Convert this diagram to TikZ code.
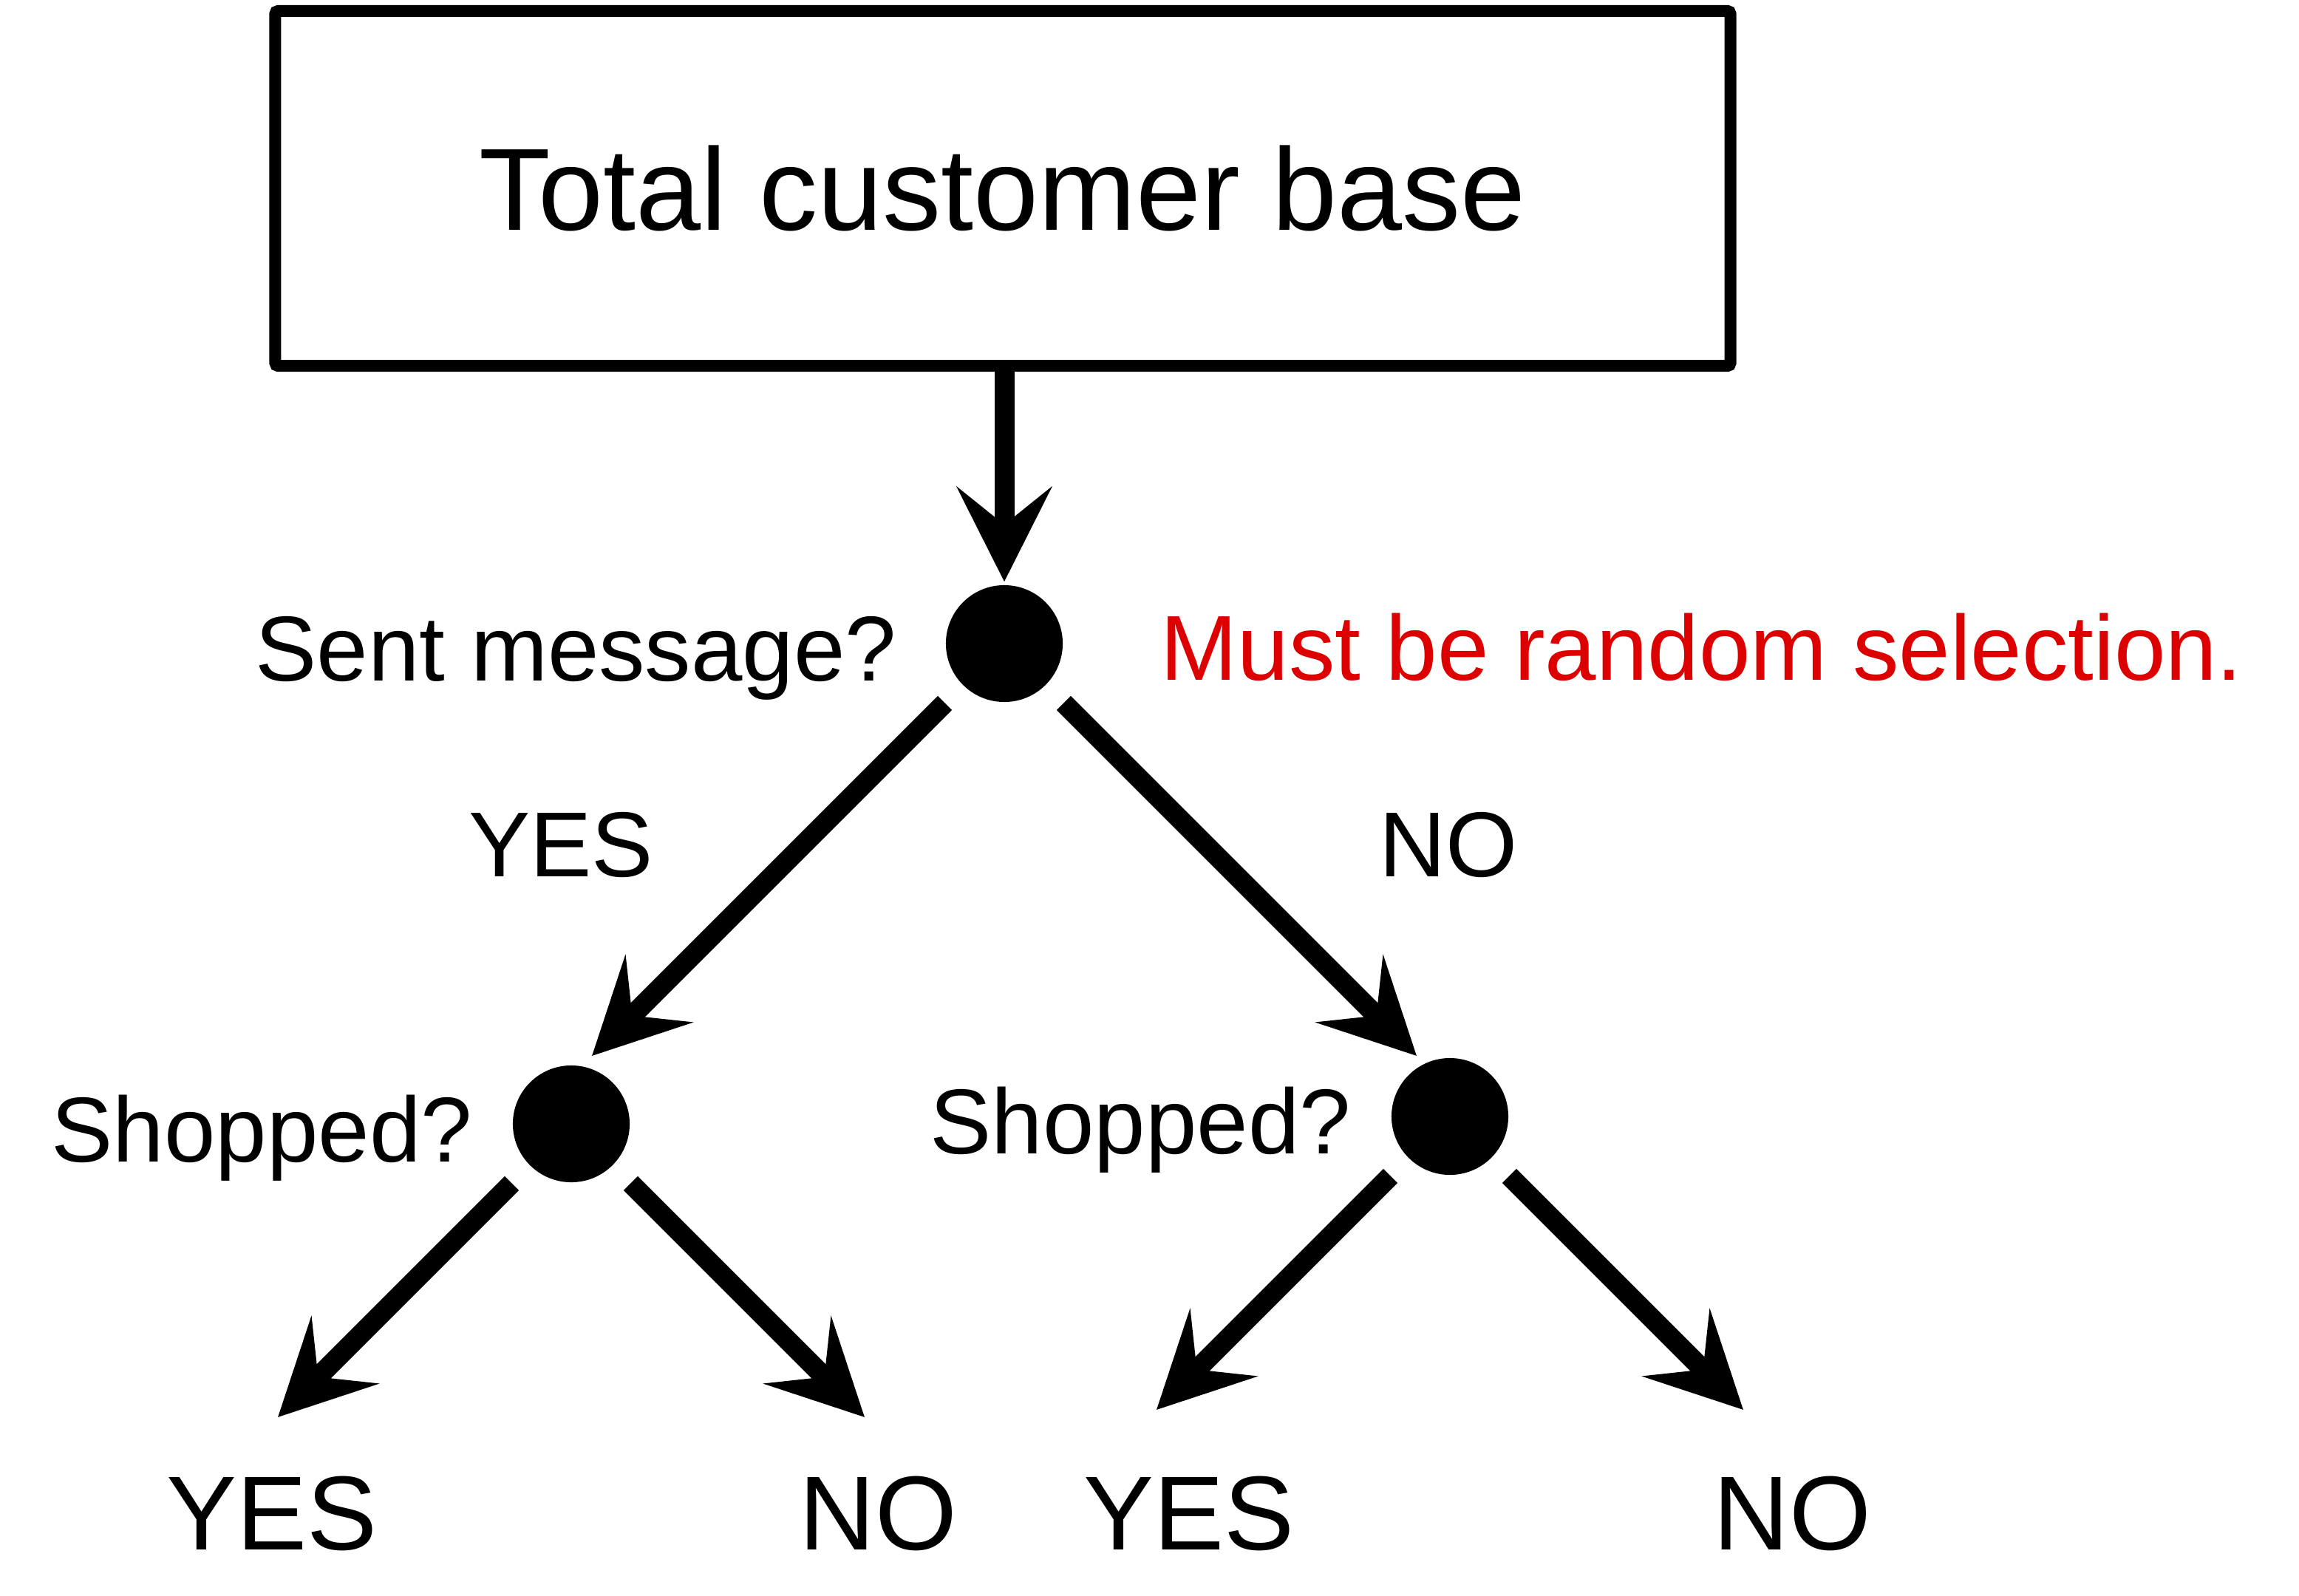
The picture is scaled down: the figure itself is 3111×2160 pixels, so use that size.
\documentclass[tikz,border=0pt]{standalone}
\usepackage{fontspec}
\setmainfont{Liberation Sans}
\usepackage{xcolor}
\usepackage{tikz}
\usetikzlibrary{arrows.meta}
\definecolor{notered}{RGB}{220,0,0}

\begin{document}
\begin{tikzpicture}[
  x=0.01cm, y=-0.01cm,
  box/.style={draw, rectangle, line width=0.16cm, rounded corners=0.04cm, minimum width=19.68cm, minimum height=4.8cm, inner sep=0pt, font=\fontsize{45}{54}\selectfont},
  dot/.style={circle, fill=black, minimum size=1.58cm, inner sep=0pt},
  lbl/.style={inner sep=0pt, font=\fontsize{35.5}{42}\selectfont},
  ans/.style={inner sep=0pt, font=\fontsize{40.5}{48}\selectfont},
  arr/.style={-{Stealth[length=1.28cm, width=1.28cm, inset=0.51cm]}, line width=0.27cm}
]
\useasboundingbox (0,0) rectangle (3111,2160);

\node[box] (total) at (1357,255) {Total customer base};

\node[dot] (sent) at (1359,871) {};
\node[dot] (shopyes) at (773,1521) {};
\node[dot] (shopno) at (1962,1511) {};

\node[lbl, anchor=base west] (lsent) at (345,921) {Sent message?};
\node[lbl, anchor=base west, text=notered] (lrandom) at (1570,920) {Must be random selection.};
\node[lbl, anchor=base] (lyes) at (759,1186) {YES};
\node[lbl, anchor=base] (lno) at (1960,1186) {NO};
\node[lbl, anchor=base west] (lshopyes) at (69,1572) {Shopped?};
\node[lbl, anchor=base west] (lshopno) at (1258,1561) {Shopped?};

\node[ans, anchor=base] (yesyes) at (368,2097) {YES};
\node[ans, anchor=base] (yesno) at (1188,2097) {NO};
\node[ans, anchor=base] (noyes) at (1609,2097) {YES};
\node[ans, anchor=base] (nono) at (2425,2097) {NO};

\coordinate (toyes) at (801,1429);
\coordinate (tono) at (1917,1429);
\coordinate (toyesyes) at (376,1918);
\coordinate (toyesno) at (1170,1918);
\coordinate (tonoyes) at (1565,1908);
\coordinate (tonono) at (2359,1908);

\draw[arr, shorten >=0.04cm] (total.south -| sent.north) -- (sent.north);
\draw[arr, shorten <=0.34cm] (sent) -- (toyes);
\draw[arr, shorten <=0.34cm] (sent) -- (tono);
\draw[arr, shorten <=0.34cm] (shopyes) -- (toyesyes);
\draw[arr, shorten <=0.34cm] (shopyes) -- (toyesno);
\draw[arr, shorten <=0.34cm] (shopno) -- (tonoyes);
\draw[arr, shorten <=0.34cm] (shopno) -- (tonono);
\end{tikzpicture}
\end{document}
